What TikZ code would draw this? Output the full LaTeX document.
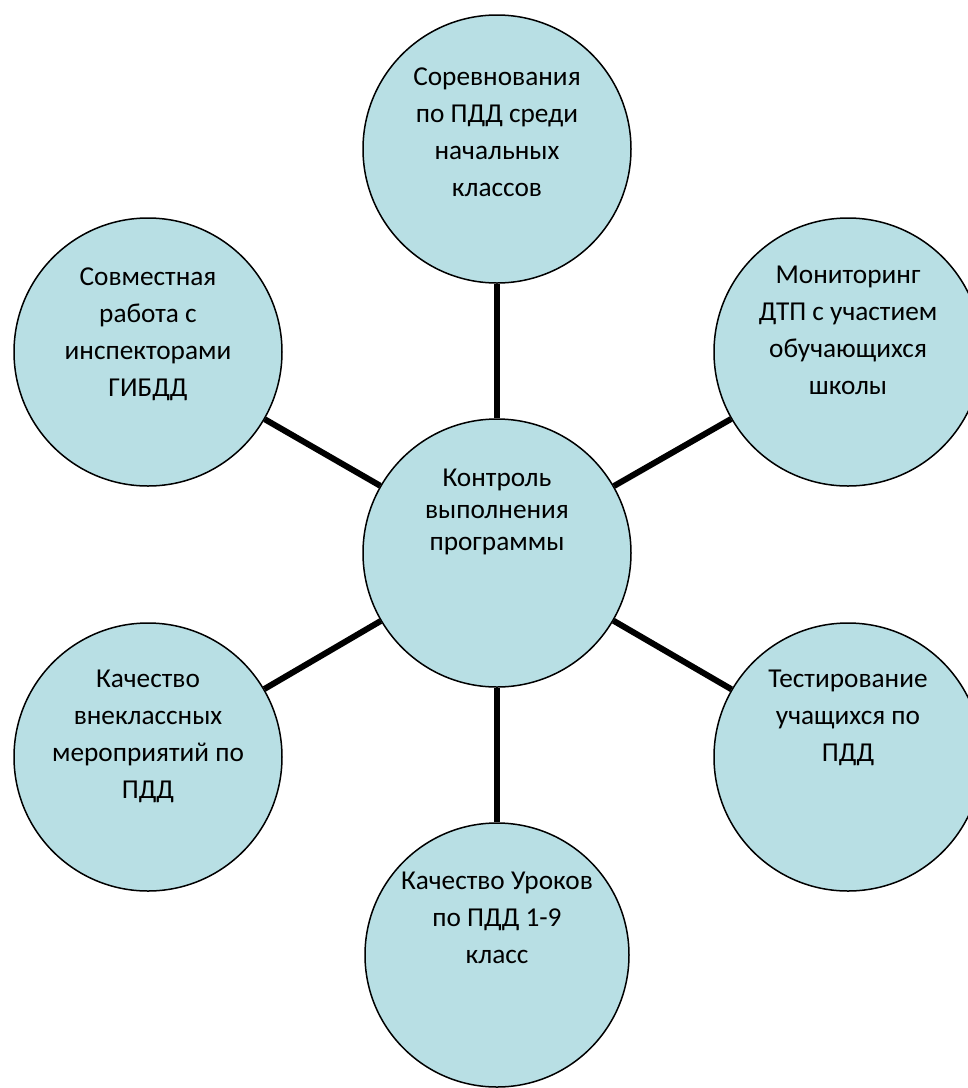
\documentclass[tikz,border=0pt]{standalone}
\usepackage{fontspec}
\setmainfont{Carlito}
\usetikzlibrary{backgrounds}
\definecolor{bubblefill}{HTML}{B8DFE4}
\tikzset{
  bubble/.style={circle, draw=black, line width=1.5pt, fill=bubblefill, minimum size=268pt, inner sep=0pt},
  bubbletext/.style={anchor=north, align=center, inner sep=0pt, font=\fontsize{27.3}{37}\selectfont},
  centertext/.style={bubbletext, font=\fontsize{27.3}{32}\selectfont},
  spoke/.style={line width=6pt, draw=black}
}
\newcommand{\fl}{\rule{0pt}{21pt}}
\begin{document}
\begin{tikzpicture}[x=1pt, y=-1pt]
\useasboundingbox (0,0) rectangle (968,1088);
\clip (0,0) rectangle (968,1088);
% circles
\node[bubble] (c)  at (497,553) {};
\node[bubble] (t)  at (497,149) {};
\node[bubble] (tl) at (148,352) {};
\node[bubble] (tr) at (848,352) {};
\node[bubble] (bl) at (148,757) {};
\node[bubble] (br) at (848,757) {};
\node[bubble, minimum size=264pt] (b)  at (497,955) {};
% connectors
\begin{scope}[on background layer]
\draw[spoke] (c) -- (t);
\draw[spoke] (c) -- (tl);
\draw[spoke] (c) -- (tr);
\draw[spoke] (c) -- (bl);
\draw[spoke] (c) -- (br);
\draw[spoke] (c) -- (b);
\end{scope}
% texts
\node[centertext] (ct)  at (497,465) {\fl Контроль\\выполнения\\программы};
\node[bubbletext] (tt)  at (497,64)  {\fl Соревнования\\по ПДД среди\\начальных\\классов};
\node[bubbletext] (tlt) at (148,264) {\fl Совместная\\работа с\\инспекторами\\ГИБДД};
\node[bubbletext] (trt) at (848,262) {\fl Мониторинг\\ДТП с участием\\обучающихся\\школы};
\node[bubbletext] (blt) at (148,666) {\fl Качество\\внеклассных\\мероприятий по\\ПДД};
\node[bubbletext] (brt) at (848,666) {\fl Тестирование\\учащихся по\\ПДД};
\node[bubbletext] (bt)  at (497,868) {\fl Качество Уроков\\по ПДД 1-9\\класс};
\end{tikzpicture}
\end{document}
